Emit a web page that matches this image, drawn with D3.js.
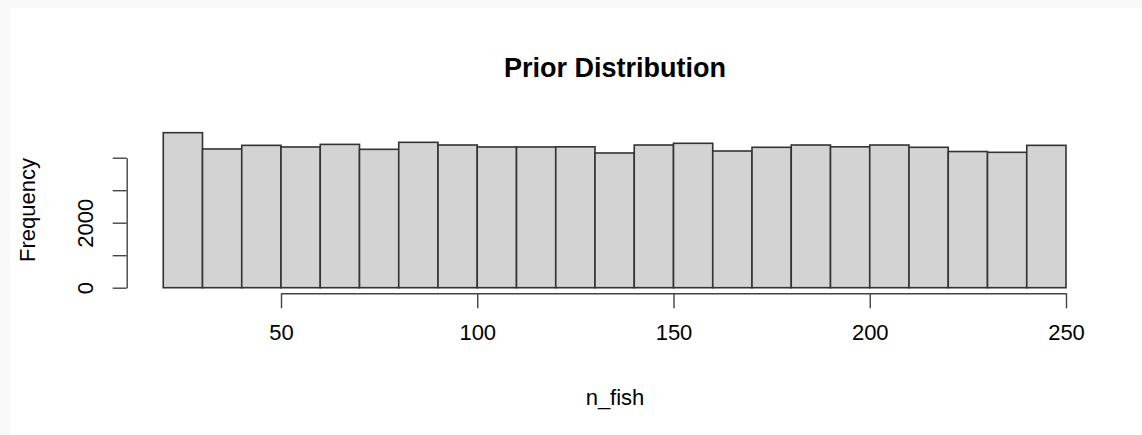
<!DOCTYPE html>
<html>
<head>
<meta charset="utf-8">
<script src="https://cdn.jsdelivr.net/npm/d3@7"></script>
<style>
  html, body { margin: 0; padding: 0; background: #f9f9f9; }
  svg { display: block; }
  text { font-family: "Liberation Sans", Arial, Helvetica, sans-serif; fill: #000; }
</style>
</head>
<body>
<script>
(function () {
    'use strict';

    const width = 1142;
    const height = 435;

    // histogram of n_fish, bin edges and counts
    const breaks = [20, 30, 40, 50, 60, 70, 80, 90, 100, 110, 120, 130, 140, 150, 160, 170, 180, 190, 200, 210, 220, 230, 240, 250];
    const counts = [4770, 4268, 4380, 4330, 4410, 4258, 4473, 4390, 4330, 4330, 4335, 4145, 4390, 4443, 4206, 4320, 4390, 4335, 4390, 4320, 4190, 4165, 4380];
    const xTicks = [50, 100, 150, 200, 250];
    const yTicks = [0, 1000, 2000, 3000, 4000];
    const yLabels = [0, 2000];

    const bins = counts.map((c, i) => ({x0: breaks[i], x1: breaks[i + 1], count: c}));

    const svg = d3.select('body')
        .append('svg')
        .attr('width', width)
        .attr('height', height);

    // white plotting panel
    svg.append('rect')
        .attr('x', 10).attr('y', 8)
        .attr('width', width - 10).attr('height', height - 8)
        .attr('fill', '#fff');

    const x = d3.scaleLinear().domain([50, 250]).range([281, 1066]);
    const y = d3.scaleLinear().domain([0, 4000]).range([287.7, 157.7]);

    svg.selectAll('.bar')
        .data(bins)
        .enter().append('rect')
        .attr('class', 'bar')
        .attr('x', d => x(d.x0))
        .attr('y', d => y(d.count))
        .attr('width', d => x(d.x1) - x(d.x0))
        .attr('height', d => y(0) - y(d.count))
        .attr('fill', '#d3d3d3')
        .attr('stroke', '#333')
        .attr('stroke-width', 1.6);

    // x axis
    const xAxis = svg.append('g')
        .attr('transform', 'translate(0,293.3)')
        .call(d3.axisBottom(x).tickValues(xTicks).tickSize(15).tickSizeOuter(0).tickPadding(16));
    xAxis.selectAll('text').style('font-size', '22px').attr('fill', '#222');

    // y axis
    const yAxis = svg.append('g')
        .attr('transform', 'translate(126.7,0)')
        .call(d3.axisLeft(y).tickValues(yTicks).tickSize(14).tickSizeOuter(0)
            .tickFormat(d => yLabels.includes(d) ? d : ''));
    yAxis.selectAll('text')
        .style('font-size', '22px')
        .attr('fill', '#222')
        .attr('text-anchor', 'middle')
        .attr('x', 0).attr('dy', 0)
        .attr('transform', 'translate(-34,0) rotate(-90)');

    svg.selectAll('.domain, .tick line').attr('stroke', '#444').attr('stroke-width', 1.4);

    svg.append('text')
        .attr('x', 615).attr('y', 77)
        .attr('text-anchor', 'middle')
        .style('font-size', '27px')
        .style('font-weight', 'bold')
        .text('Prior Distribution');

    svg.append('text')
        .attr('x', 615).attr('y', 405)
        .attr('text-anchor', 'middle')
        .style('font-size', '22px')
        .attr('fill', '#222')
        .text('n_fish');

    svg.append('text')
        .attr('transform', 'translate(35,210) rotate(-90)')
        .attr('text-anchor', 'middle')
        .style('font-size', '22px')
        .attr('fill', '#222')
        .text('Frequency');
}());
</script>
</body>
</html>
